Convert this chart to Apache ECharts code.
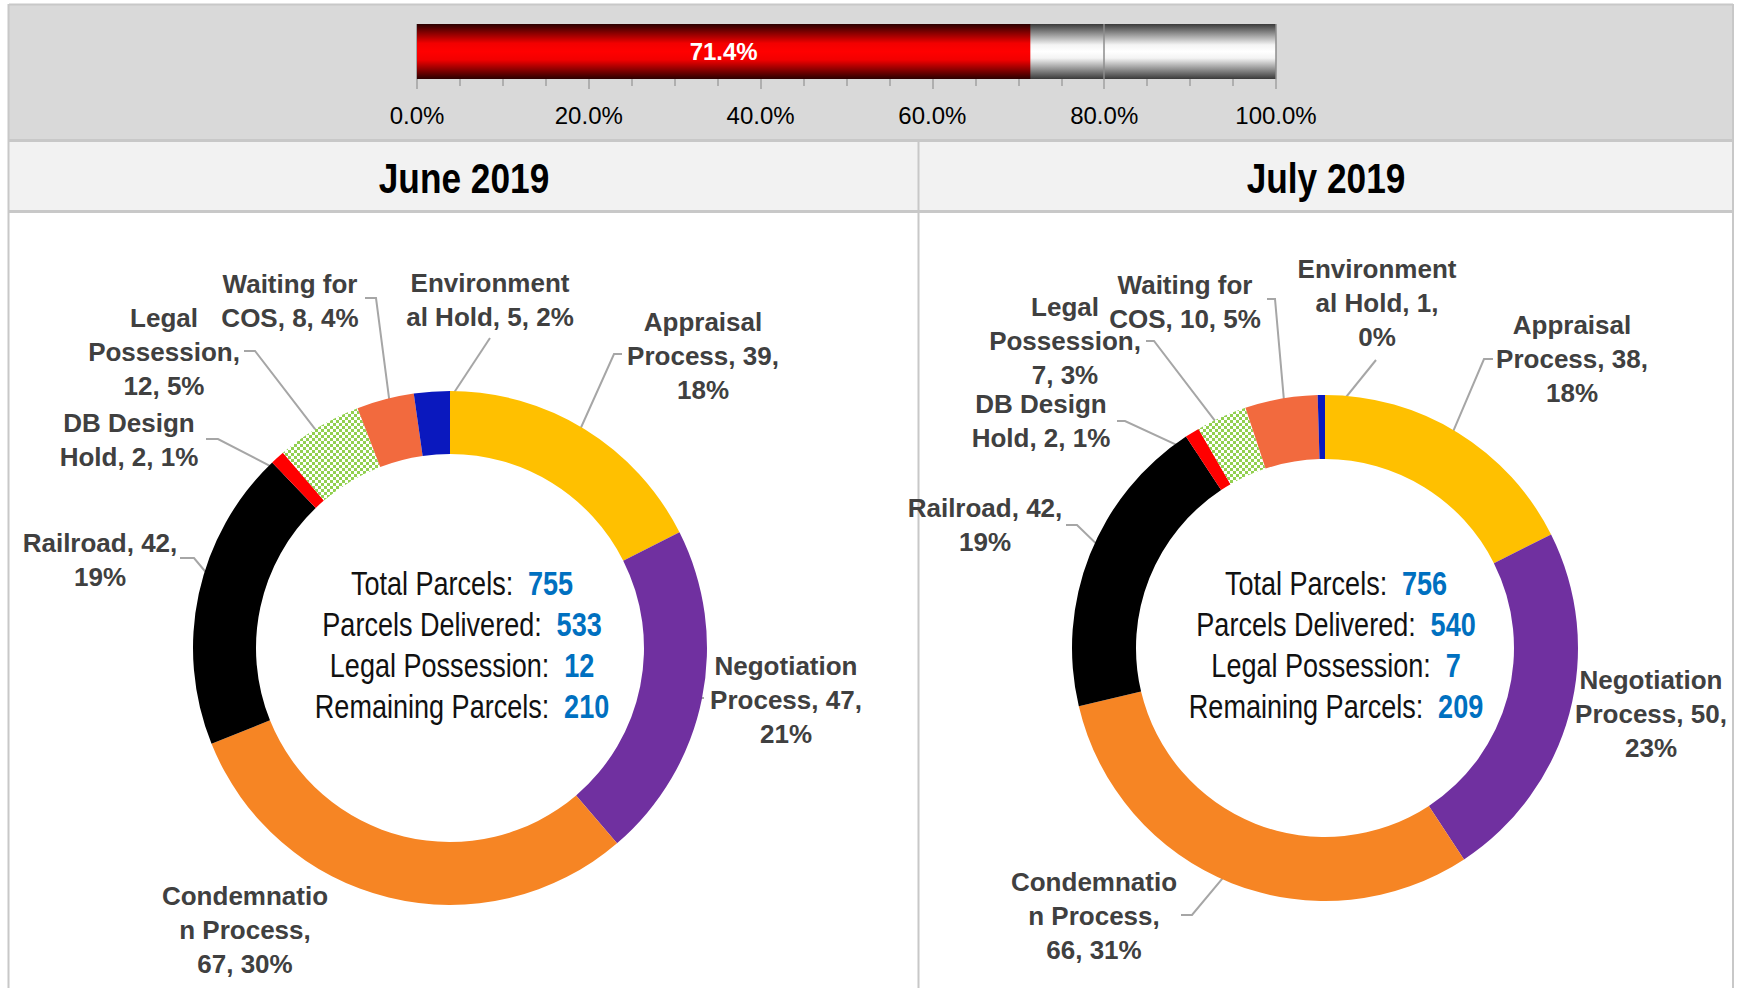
<!DOCTYPE html>
<html>
<head>
<meta charset="utf-8">
<title>Parcel Status</title>
<script src="https://cdn.jsdelivr.net/npm/echarts@6/dist/echarts.min.js"></script>
<style>
html, body { margin: 0; padding: 0; background: #fff; }
#main { width: 1740px; height: 988px; }
</style>
</head>
<body>
<div id="main"></div>
<script>
var categories = ['Appraisal Process', 'Negotiation Process', 'Condemnation Process', 'Railroad',
                  'DB Design Hold', 'Legal Possession', 'Waiting for COS', 'Environmental Hold'];
var juneValues = [39, 47, 67, 42, 2, 12, 8, 5];
var julyValues = [38, 50, 66, 42, 2, 7, 10, 1];
var periods = ['June 2019', 'July 2019'];

var summaryNames = ['Total Parcels:', 'Parcels Delivered:', 'Legal Possession:', 'Remaining Parcels:'];
var juneSummary = [755, 533, 12, 210];
var julySummary = [756, 540, 7, 209];

var progressValue = 71.4;
var progressMin = 0;
var progressMax = 100;

// how Excel wrapped each label
var juneWrap = ['Appraisal\nProcess, {v},\n{p}%', 'Negotiation\nProcess, {v},\n{p}%', 'Condemnatio\nn Process,\n{v}, {p}%',
                'Railroad, {v},\n{p}%', 'DB Design\nHold, {v}, {p}%', 'Legal\nPossession,\n{v}, {p}%',
                'Waiting for\nCOS, {v}, {p}%', 'Environment\nal Hold, {v}, {p}%'];
var julyWrap = ['Appraisal\nProcess, {v},\n{p}%', 'Negotiation\nProcess, {v},\n{p}%', 'Condemnatio\nn Process,\n{v}, {p}%',
                'Railroad, {v},\n{p}%', 'DB Design\nHold, {v}, {p}%', 'Legal\nPossession,\n{v}, {p}%',
                'Waiting for\nCOS, {v}, {p}%', 'Environment\nal Hold, {v},\n{p}%'];

var sliceColors = ['#FFC000', '#7030A0', '#F68524', '#000000', '#FF0000', null, '#F26A3E', '#0A18BE'];

// label centre x, y, then leader bend x, y and leader start x, y (no leader when only 2 numbers)
var juneLabelPos = [
  [703, 356, 614, 354, 622, 354],
  [786, 700, 697, 698, 704, 698],
  [245, 930],
  [100, 560, 194, 558, 180, 558],
  [129, 440, 218, 439, 206, 439],
  [164, 352, 255, 351, 244, 351],
  [290, 301, 376, 298, 365, 298],
  [490, 300, 490, 338, 490, 338]
];
var julyLabelPos = [
  [1572, 359, 1484, 359, 1493, 359],
  [1651, 714],
  [1094, 916, 1192, 915, 1181, 915],
  [985, 525, 1077, 525, 1066, 525],
  [1041, 421, 1125, 421, 1117, 421],
  [1065, 341, 1154, 341, 1146, 341],
  [1185, 302, 1275, 299, 1267, 299],
  [1377, 303, 1376, 360, 1376, 360]
];

var sans = "'Liberation Sans Narrow', 'Liberation Sans', Arial, sans-serif";
var squeeze = 0.82;

function checker() {
  var c = document.createElement('canvas');
  c.width = 6; c.height = 6;
  var ctx = c.getContext('2d');
  ctx.fillStyle = '#ffffff';
  ctx.fillRect(0, 0, 6, 6);
  ctx.fillStyle = '#92D050';
  ctx.fillRect(0, 0, 3, 3);
  ctx.fillRect(3, 3, 3, 3);
  return c;
}
var checkerCanvas = checker();

function sum(arr) {
  var s = 0;
  for (var i = 0; i < arr.length; i++) s += arr[i];
  return s;
}

function pieData(values, pos) {
  var out = [];
  for (var i = 0; i < values.length; i++) {
    out.push({
      name: categories[i],
      value: values[i],
      itemStyle: { color: sliceColors[i] || { image: checkerCanvas, repeat: 'repeat' } },
      labelLine: { show: pos[i].length > 2 }
    });
  }
  return out;
}

function labelFormatter(values, wrap) {
  var total = sum(values);
  return function (p) {
    var pct = Math.round(p.value / total * 100);
    return wrap[p.dataIndex].replace('{v}', p.value).replace('{p}', pct);
  };
}

function labelLayoutFn(pos, center, radius) {
  var midR = (radius[0] + radius[1]) / 2;
  return function (params) {
    var p = pos[params.dataIndex];
    var res = { x: p[0], y: p[1], align: 'center', verticalAlign: 'middle' };
    var pts = params.labelLinePoints;
    if (pts && p.length > 2) {
      var dx = pts[0][0] - center[0];
      var dy = pts[0][1] - center[1];
      var len = Math.sqrt(dx * dx + dy * dy) || 1;
      res.labelLinePoints = [
        [center[0] + dx / len * midR, center[1] + dy / len * midR],
        [p[2], p[3]],
        [p[4], p[5]]
      ];
    }
    return res;
  };
}

function pieSeries(name, values, wrap, pos, center, radius) {
  return {
    name: name,
    type: 'pie',
    center: center,
    radius: radius,
    startAngle: 90,
    clockwise: true,
    avoidLabelOverlap: false,
    animation: false,
    itemStyle: { borderWidth: 0 },
    label: {
      show: true,
      position: 'outside',
      formatter: labelFormatter(values, wrap),
      fontFamily: sans,
      fontWeight: 'bold',
      fontSize: 26,
      lineHeight: 34,
      color: '#404040'
    },
    labelLine: { show: true, length: 10, length2: 10, lineStyle: { color: '#a6a6a6', width: 2 } },
    labelLayout: labelLayoutFn(pos, center, radius),
    emphasis: { disabled: true },
    data: pieData(values, pos)
  };
}

function summaryText(values) {
  var lines = [];
  for (var i = 0; i < summaryNames.length; i++) {
    lines.push('{n|' + summaryNames[i] + '}{v|' + values[i] + '}');
  }
  return lines.join('\n');
}

var summaryRich = {
  n: { fontFamily: sans, fontSize: 33, fill: '#111111', align: 'center', lineHeight: 41 },
  v: { fontFamily: sans, fontSize: 33, fontWeight: 'bold', fill: '#0070C0', align: 'center', lineHeight: 41, padding: [0, 0, 0, 18] }
};

var borderColor = '#c8c8c8';
var juneCenter = [450, 648];
var julyCenter = [1325, 648];

var chart = echarts.init(document.getElementById('main'), null, { renderer: 'svg' });

var option = {
  backgroundColor: '#ffffff',
  animation: false,
  graphic: [
    { type: 'rect', z: -5, shape: { x: 9, y: 4, width: 1724, height: 137 }, style: { fill: '#d9d9d9' } },
    { type: 'rect', z: -5, shape: { x: 9, y: 142, width: 1724, height: 69 }, style: { fill: '#f2f2f2' } },
    { type: 'line', z: -4, shape: { x1: 9, y1: 4.5, x2: 1733, y2: 4.5 }, style: { stroke: borderColor, lineWidth: 2 } },
    { type: 'line', z: -4, shape: { x1: 9, y1: 140.5, x2: 1733, y2: 140.5 }, style: { stroke: borderColor, lineWidth: 3 } },
    { type: 'line', z: -4, shape: { x1: 9, y1: 211.5, x2: 1733, y2: 211.5 }, style: { stroke: borderColor, lineWidth: 3 } },
    { type: 'line', z: -4, shape: { x1: 8.5, y1: 4, x2: 8.5, y2: 988 }, style: { stroke: borderColor, lineWidth: 2 } },
    { type: 'line', z: -4, shape: { x1: 1733, y1: 4, x2: 1733, y2: 988 }, style: { stroke: borderColor, lineWidth: 2 } },
    { type: 'line', z: -4, shape: { x1: 918.5, y1: 141, x2: 918.5, y2: 988 }, style: { stroke: borderColor, lineWidth: 2 } },
    {
      type: 'text', x: 464, y: 178, scaleX: squeeze,
      style: { text: periods[0], fill: '#000', font: 'bold 43px ' + sans, align: 'center', verticalAlign: 'middle' }
    },
    {
      type: 'text', x: 1326, y: 178, scaleX: squeeze,
      style: { text: periods[1], fill: '#000', font: 'bold 43px ' + sans, align: 'center', verticalAlign: 'middle' }
    },
    {
      type: 'text', x: 462, y: 645, scaleX: squeeze,
      style: { text: summaryText(juneSummary), rich: summaryRich, align: 'center', verticalAlign: 'middle' }
    },
    {
      type: 'text', x: 1336, y: 645, scaleX: squeeze,
      style: { text: summaryText(julySummary), rich: summaryRich, align: 'center', verticalAlign: 'middle' }
    }
  ],
  grid: {
    left: 417, top: 24, width: 859, height: 55,
    show: true, borderWidth: 0,
    backgroundColor: {
      type: 'linear', x: 0, y: 0, x2: 0, y2: 1,
      colorStops: [
        { offset: 0, color: '#3a3a3a' },
        { offset: 0.38, color: '#f4f4f4' },
        { offset: 0.5, color: '#ffffff' },
        { offset: 0.62, color: '#f4f4f4' },
        { offset: 1, color: '#3a3a3a' }
      ]
    }
  },
  xAxis: {
    type: 'value',
    min: progressMin,
    max: progressMax,
    interval: 20,
    axisLine: { show: false },
    axisTick: { show: true, length: 10, lineStyle: { color: '#a0a0a0', width: 1.5 } },
    minorTick: { show: true, splitNumber: 4, length: 7, lineStyle: { color: '#a0a0a0', width: 1.5 } },
    splitLine: { show: true, lineStyle: { color: '#8c8c8c', width: 1.5 } },
    axisLabel: {
      margin: 24,
      fontFamily: sans,
      fontSize: 24,
      color: '#000',
      formatter: function (v) { return v.toFixed(1) + '%'; }
    }
  },
  yAxis: { type: 'category', data: ['Delivered'], show: false },
  series: [
    {
      type: 'bar',
      data: [progressValue],
      barWidth: '100%',
      itemStyle: {
        color: {
          type: 'linear', x: 0, y: 0, x2: 0, y2: 1,
          colorStops: [
            { offset: 0, color: '#2a0000' },
            { offset: 0.35, color: '#f20000' },
            { offset: 0.5, color: '#ff0000' },
            { offset: 0.65, color: '#f20000' },
            { offset: 1, color: '#2a0000' }
          ]
        }
      },
      label: {
        show: true,
        position: 'inside',
        fontFamily: sans,
        fontSize: 24,
        fontWeight: 'bold',
        color: '#ffffff',
        formatter: function (p) { return p.value.toFixed(1) + '%'; }
      },
      emphasis: { disabled: true }
    },
    pieSeries(periods[0], juneValues, juneWrap, juneLabelPos, juneCenter, [194, 257]),
    pieSeries(periods[1], julyValues, julyWrap, julyLabelPos, julyCenter, [189, 253])
  ]
};

chart.setOption(option);
</script>
</body>
</html>
